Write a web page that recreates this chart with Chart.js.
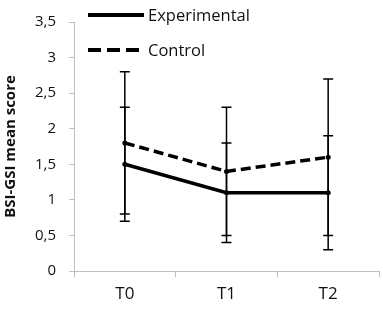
<!DOCTYPE html>
<html>
<head>
<meta charset="utf-8">
<script src="https://cdn.jsdelivr.net/npm/chart.js@4"></script>
<style>
  html, body { margin: 0; padding: 0; background: #fff; }
  #wrap { position: relative; width: 383px; height: 313px; }
  .leg { position: absolute; left: 88px; display: flex; align-items: center;
         font: 16.5px "Open Sans", sans-serif; color: #111; }
  .leg i { display: inline-block; width: 56px; margin-right: 4px; }
  .solid { border-top: 4px solid #000; }
  .dash { height: 4px; background: repeating-linear-gradient(90deg, #000 0 13px, transparent 13px 19px); }
</style>
</head>
<body>
<div id="wrap">
  <canvas id="c" width="383" height="313"></canvas>
  <div class="leg" style="top:3px"><i class="solid"></i>Experimental</div>
  <div class="leg" style="top:38px"><i class="dash"></i>Control</div>
</div>
<script>
// BSI-GSI mean score over time, experimental vs control, with SD error bars
const labels = ["T0", "T1", "T2"];
const experimental = [1.5, 1.1, 1.1];
const experimentalErr = [0.8, 0.7, 0.8];
const control = [1.8, 1.4, 1.6];
const controlErr = [1.0, 0.9, 1.1];

const AXIS = "#bfbfbf";
const FONT = '"Open Sans", sans-serif';

// draws vertical error bars with caps, from the errors kept on each dataset
const errorBars = {
  id: "errorBars",
  afterDatasetsDraw(chart) {
    const { ctx, scales: { x, y } } = chart;
    ctx.save();
    ctx.strokeStyle = "#000";
    ctx.lineWidth = 1.5;
    chart.data.datasets.forEach((ds) => {
      ds.data.forEach((v, i) => {
        const px = x.getPixelForValue(i);
        const lo = y.getPixelForValue(v - ds.err[i]);
        const hi = y.getPixelForValue(v + ds.err[i]);
        ctx.beginPath();
        ctx.moveTo(px, lo); ctx.lineTo(px, hi);
        ctx.moveTo(px - 5, lo); ctx.lineTo(px + 5, lo);
        ctx.moveTo(px - 5, hi); ctx.lineTo(px + 5, hi);
        ctx.stroke();
      });
    });
    ctx.restore();
  },
};

new Chart(document.getElementById("c"), {
  type: "line",
  data: {
    labels,
    datasets: [
      { label: "Experimental", data: experimental, err: experimentalErr, borderColor: "#000", borderWidth: 3.5,
        pointRadius: 2.5, pointBackgroundColor: "#000", pointBorderWidth: 0, tension: 0 },
      { label: "Control", data: control, err: controlErr, borderColor: "#000", borderWidth: 3.5, borderDash: [10, 5],
        pointRadius: 2.5, pointBackgroundColor: "#000", pointBorderWidth: 0, tension: 0 },
    ],
  },
  options: {
    responsive: false,
    animation: false,
    layout: { padding: { top: 15, right: 3, left: 0, bottom: 0 } },
    plugins: { legend: { display: false }, tooltip: { enabled: false } },
    scales: {
      x: {
        offset: true,
        grid: { offset: true, drawOnChartArea: false, color: AXIS, tickLength: 6 },
        border: { color: AXIS },
        ticks: { color: "#111", padding: 7, font: { family: FONT, size: 17 } },
        afterFit: (s) => { s.height = 42; },
      },
      y: {
        min: 0, max: 3.5,
        grid: { drawOnChartArea: false, color: AXIS, tickLength: 5 },
        border: { color: AXIS },
        ticks: { stepSize: 0.5, color: "#111", padding: 13, font: { family: FONT, size: 15 },
                 callback: (v) => String(v).replace(".", ",") },
        title: { display: true, text: "BSI-GSI mean score", color: "#111",
                 font: { family: FONT, size: 15, weight: "bold" }, padding: { top: 2, bottom: 0 } },
        afterFit: (s) => { s.width = 74; },
      },
    },
  },
  plugins: [errorBars],
});
</script>
</body>
</html>
